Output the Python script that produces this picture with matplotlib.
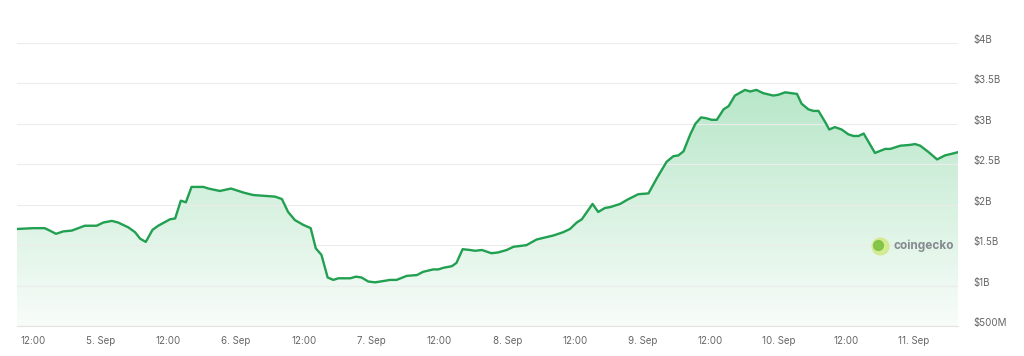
import numpy as np
import pandas as pd
import matplotlib
matplotlib.use("Agg")
import matplotlib.pyplot as plt
import matplotlib.dates as mdates
from matplotlib.colors import LinearSegmentedColormap
from matplotlib.lines import Line2D

# Data: hours after 4 Sep 00:00, trading volume in $B
hours = [9.2, 12.1, 14.1, 15.0, 16.1, 17.4, 18.9, 21.2, 23.3, 24.5, 26.0, 27.1, 28.9, 30.1, 31.0,
         32.0, 33.2, 34.2, 36.3, 37.2, 38.2, 39.1, 40.1, 42.2, 43.1, 45.1, 47.1, 49.3, 51.0, 54.9,
         56.1, 57.2, 58.4, 59.9, 61.2, 62.1, 63.1, 64.2, 65.2, 66.1, 68.2, 69.2, 70.2, 71.4, 72.6,
         74.4, 75.2, 76.4, 78.2, 80.0, 81.1, 82.9, 83.8, 84.7, 86.2, 87.0, 88.1, 89.4, 90.3, 91.5,
         93.2, 94.4, 95.9, 97.1, 98.3, 99.4, 101.2, 103.0, 104.2, 105.9, 107.1, 108.3, 109.2, 111.1,
         112.1, 113.3, 114.2, 116.0, 117.2, 119.2, 121.0, 122.5, 124.2, 125.4, 126.3, 127.2, 128.4,
         129.3, 130.3, 131.2, 132.2, 133.1, 134.3, 135.2, 136.3, 138.1, 139.0, 140.1, 141.3, 143.1,
         144.0, 145.2, 147.3, 148.1, 149.3, 150.2, 151.1, 152.3, 153.0, 154.0, 155.2, 156.4, 157.3,
         158.2, 159.1, 161.1, 162.9, 163.8, 165.6, 167.3, 168.2, 169.1, 170.6, 172.1, 173.5, 174.7,
         175.8]
volume = [1.70, 1.71, 1.71, 1.68, 1.64, 1.67, 1.68, 1.74, 1.74, 1.78, 1.80, 1.78, 1.72, 1.66, 1.58,
          1.54, 1.69, 1.74, 1.82, 1.83, 2.05, 2.03, 2.22, 2.22, 2.20, 2.17, 2.20, 2.15, 2.12, 2.10,
          2.07, 1.91, 1.81, 1.75, 1.71, 1.46, 1.38, 1.10, 1.07, 1.09, 1.09, 1.11, 1.10, 1.05, 1.04,
          1.06, 1.07, 1.07, 1.12, 1.13, 1.17, 1.20, 1.20, 1.22, 1.24, 1.28, 1.45, 1.44, 1.43, 1.44,
          1.40, 1.41, 1.44, 1.48, 1.49, 1.50, 1.57, 1.60, 1.62, 1.66, 1.70, 1.78, 1.82, 2.01,
          1.91, 1.96, 1.97, 2.01, 2.06, 2.13, 2.14, 2.33, 2.53, 2.60, 2.61, 2.66, 2.87,
          3.00, 3.08, 3.07, 3.05, 3.05, 3.18, 3.22, 3.35, 3.42, 3.40, 3.42, 3.38, 3.35,
          3.36, 3.39, 3.37, 3.25, 3.18, 3.16, 3.16, 3.02, 2.93, 2.96, 2.93, 2.87, 2.85,
          2.85, 2.88, 2.64, 2.69, 2.69, 2.73, 2.74, 2.75, 2.73, 2.65, 2.56, 2.61, 2.63,
          2.65]
y_ticks = [0.5, 1.0, 1.5, 2.0, 2.5, 3.0, 3.5, 4.0]
y_labels = ["$500M", "$1B", "$1.5B", "$2B", "$2.5B", "$3B", "$3.5B", "$4B"]

start = pd.Timestamp("2024-09-04")
times = start + pd.to_timedelta(hours, unit="h")
x = mdates.date2num(times.to_pydatetime())
y = np.array(volume)

fig = plt.figure(figsize=(10.24, 3.56), dpi=100)
ax = fig.add_axes([17 / 1024, 1 - 326 / 356, (958 - 17) / 1024, (326 - 43) / 356])
ax.set_xlim(x[0], x[-1])
ax.set_ylim(0.5, 4.0)

green = "#22a052"
# gradient fill under the line
cmap = LinearSegmentedColormap.from_list("g", [(0.0, 0.66, 0.24, 0.03), (0.0, 0.66, 0.24, 0.33)])
grad = np.linspace(0, 1, 256).reshape(-1, 1)
im = ax.imshow(grad, cmap=cmap, aspect="auto", origin="lower",
               extent=[x[0], x[-1], 0.5, 4.0], zorder=1)
poly = ax.fill_between(x, y, 0.5, color="none")
im.set_clip_path(poly.get_paths()[0], transform=ax.transData)
ax.plot(x, y, color=green, lw=1.7, zorder=3, solid_joinstyle="round")

# grid and axes
ax.set_yticks(y_ticks)
ax.grid(axis="y", color="#ececec", lw=0.8, zorder=0)
for s in ["top", "left", "right"]:
    ax.spines[s].set_visible(False)
ax.spines["bottom"].set_color("#e3e3e3")
ax.spines["bottom"].set_linewidth(0.8)
ax.yaxis.tick_right()
ax.set_yticklabels(y_labels)
ax.tick_params(axis="y", length=0, pad=11, labelsize=7, labelcolor="#666666")
for lab in ax.get_yticklabels():
    lab.set_va("baseline")
    lab.set_fontfamily("Inter")

tick_times = start + pd.to_timedelta(np.arange(12, 169, 12), unit="h")
ax.set_xticks(mdates.date2num(tick_times.to_pydatetime()))
ax.set_xticklabels([f"{t.day}. Sep" if t.hour == 0 else "12:00" for t in tick_times])
ax.tick_params(axis="x", length=0, pad=7, labelsize=7, labelcolor="#666666")
for lab in ax.get_xticklabels():
    lab.set_fontfamily("Inter")

# coingecko watermark
fig.text(893 / 1024, 1 - 246 / 356, "coingecko", fontsize=8.5, fontweight="bold",
         color="#7a7f85", va="center", ha="left", family="Inter", alpha=0.9)
fig.add_artist(Line2D([880 / 1024], [1 - 246 / 356], transform=fig.transFigure, marker="o",
                      markersize=12, color="#d3e98a", alpha=0.9, lw=0))
fig.add_artist(Line2D([878 / 1024], [1 - 245 / 356], transform=fig.transFigure, marker="o",
                      markersize=7, color="#7cc142", alpha=0.9, lw=0))

fig.savefig("out.png", dpi=100)
